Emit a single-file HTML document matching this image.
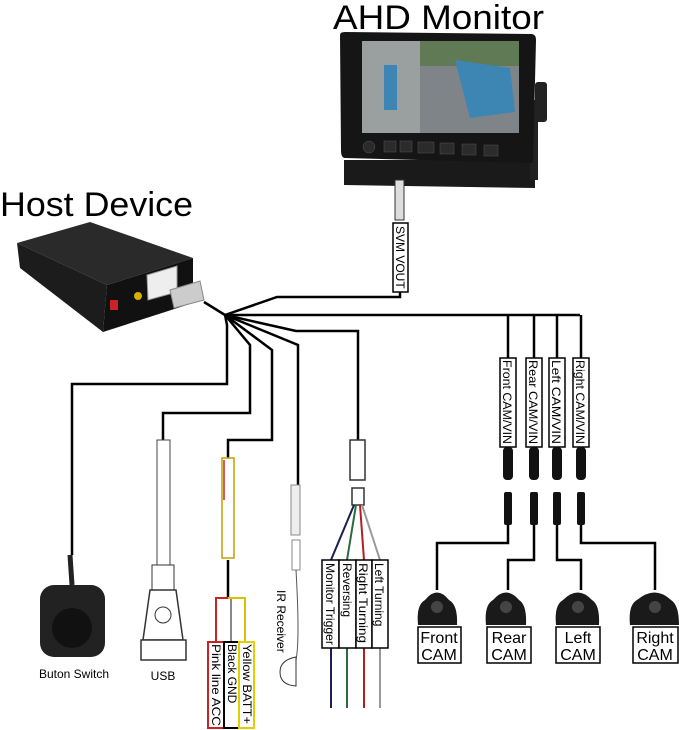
<!DOCTYPE html>
<html><head><meta charset="utf-8"><style>
html,body{margin:0;padding:0;background:#fff;}
svg{display:block;font-family:"Liberation Sans",sans-serif;}
</style></head><body>
<svg width="679" height="730" viewBox="0 0 679 730" xmlns="http://www.w3.org/2000/svg">
<rect width="679" height="730" fill="#fff"/>
<!-- titles -->
<text x="333" y="29" font-size="34" textLength="211" lengthAdjust="spacingAndGlyphs">AHD Monitor</text>
<text x="0" y="216" font-size="34" textLength="193" lengthAdjust="spacingAndGlyphs">Host Device</text>

<!-- monitor -->
<path d="M344 160 L344 185 L535 188 L535 160 Z" fill="#1a1a1a"/>
<rect x="535" y="82" width="12" height="40" rx="3" fill="#222"/>
<rect x="530" y="100" width="8" height="80" fill="#222"/>
<path d="M340 35 Q340 32 345 32 L531 34 Q536 34 536 40 L533 163 L345 158 Q341 158 341 150 Z" fill="#151515"/>
<rect x="362" y="41" width="157" height="92" fill="#8d9497"/>
<rect x="362" y="41" width="58" height="92" fill="#9aa0a0"/>
<rect x="420" y="41" width="99" height="92" fill="#7e8487"/>
<rect x="420" y="41" width="99" height="25" fill="#5f7a55"/>
<path d="M455 60 L510 68 L515 112 L470 118 Z" fill="#3d86b3"/>
<rect x="384" y="65" width="13" height="45" fill="#3d86b3"/>
<g fill="#2b2b2b" stroke="#555" stroke-width="0.5">
<circle cx="369" cy="147" r="6"/>
<rect x="384" y="141" width="12" height="11"/><rect x="400" y="141" width="12" height="11"/><rect x="418" y="142" width="16" height="11"/>
<rect x="440" y="143" width="14" height="11"/><rect x="462" y="144" width="14" height="11"/><rect x="484" y="145" width="14" height="11"/>
</g>
<!-- SVM vout -->
<rect x="395" y="180" width="9" height="40" fill="#ddd" stroke="#333"/>
<rect x="393" y="223" width="15" height="69" fill="#fff" stroke="#000" stroke-width="1.5"/>
<text transform="translate(396,226) rotate(90)" font-size="12">SVM VOUT</text>

<!-- host device -->
<polygon points="17,243 90,222 193,258 107,285" fill="#2a2a2a"/>
<polygon points="107,285 193,258 193,303 103,332" fill="#111"/>
<polygon points="17,243 107,285 103,332 20,268" fill="#1c1c1c"/>
<rect x="110" y="300" width="8" height="10" fill="#c22"/>
<circle cx="138" cy="296" r="4" fill="#d4b000"/>
<polygon points="147,275 177,266 177,292 148,300" fill="#eee" stroke="#999"/>
<polygon points="170,290 200,281 204,300 174,308" fill="#ccc" stroke="#888"/>

<!-- wires -->
<g fill="none" stroke="#000" stroke-width="2.5">
<path d="M204 302 L225 315"/>
<path d="M225 315 L277 297 L400 297 L400 292"/>
<path d="M225 315 L580 315"/>
<path d="M508 315 V358 M534 315 V358 M557 315 V358 M581 315 V358"/>
<path d="M225 315 L296 331 L358 331 L358 440"/>
<path d="M225 315 L227 325 L227 384 L72 384 L72 555"/>
<path d="M225 315 L250 345 L250 413 L163 413 L163 440"/>
<path d="M225 315 L272 350 L272 440 L228 440 L228 458"/>
<path d="M225 315 L298 345 L298 485"/>
<path d="M508 525 V543 H437 V590"/>
<path d="M534 525 V560 H508 V590"/>
<path d="M557 525 V560 H581 V590"/>
<path d="M581 525 V543 H655 V590"/>
<path d="M228 560 V598"/>
</g>

<!-- CAM/VIN labels -->
<g fill="#fff" stroke="#000" stroke-width="1.5">
<rect x="500" y="358" width="16" height="89"/><rect x="526" y="358" width="16" height="89"/>
<rect x="549" y="358" width="16" height="89"/><rect x="573" y="358" width="16" height="89"/>
</g>
<g font-size="12">
<text transform="translate(503,360) rotate(90)" textLength="84" lengthAdjust="spacingAndGlyphs">Front CAM/VIN</text>
<text transform="translate(529,360) rotate(90)" textLength="84" lengthAdjust="spacingAndGlyphs">Rear CAM/VIN</text>
<text transform="translate(552,360) rotate(90)" textLength="84" lengthAdjust="spacingAndGlyphs">Left CAM/VIN</text>
<text transform="translate(576,360) rotate(90)" textLength="84" lengthAdjust="spacingAndGlyphs">Right CAM/VIN</text>
</g>
<g fill="#111">
<rect x="503" y="447" width="10" height="33" rx="4"/><rect x="529" y="447" width="10" height="33" rx="4"/>
<rect x="552" y="447" width="10" height="33" rx="4"/><rect x="576" y="447" width="10" height="33" rx="4"/>
<rect x="504" y="492" width="8" height="33" rx="2"/><rect x="530" y="492" width="8" height="33" rx="2"/>
<rect x="553" y="492" width="8" height="33" rx="2"/><rect x="577" y="492" width="8" height="33" rx="2"/>
</g>

<!-- cameras -->
<g fill="#1a1a1a">
<path d="M418 625 Q416 605 425 600 Q437 585 449 600 Q458 605 457 625 Z"/>
<path d="M486 625 Q484 605 493 600 Q506 585 519 600 Q527 605 526 625 Z"/>
<path d="M556 625 Q554 605 563 600 Q578 585 592 600 Q600 605 599 625 Z"/>
<path d="M630 625 Q628 605 637 600 Q655 585 671 600 Q679 605 679 625 Z"/>
</g>
<g fill="#444"><circle cx="437" cy="607" r="6"/><circle cx="506" cy="607" r="6"/><circle cx="578" cy="607" r="6"/><circle cx="655" cy="607" r="6"/></g>
<g fill="#fff" stroke="#000" stroke-width="1.5">
<rect x="418" y="627" width="43" height="36"/><rect x="487" y="627" width="44" height="36"/>
<rect x="556" y="627" width="44" height="36"/><rect x="633" y="627" width="45" height="36"/>
</g>
<g font-size="16" text-anchor="middle">
<text x="439" y="643">Front</text><text x="439" y="660">CAM</text>
<text x="509" y="643">Rear</text><text x="509" y="660">CAM</text>
<text x="578" y="643">Left</text><text x="578" y="660">CAM</text>
<text x="655" y="643">Right</text><text x="655" y="660">CAM</text>
</g>

<!-- trigger harness -->
<rect x="350" y="440" width="15" height="40" fill="#fff" stroke="#333" stroke-width="1.5"/>
<rect x="352" y="488" width="12" height="17" fill="#fff" stroke="#333" stroke-width="1.5"/>
<g fill="none" stroke-width="2">
<path d="M354 505 L331 560 V708" stroke="#1e1e50"/>
<path d="M356 505 L347 560 V708" stroke="#2b6b3d"/>
<path d="M360 505 L364 560 V708" stroke="#b02020"/>
<path d="M362 505 L380 560 V708" stroke="#999"/>
</g>
<g fill="#fff" stroke="#000" stroke-width="1.5">
<rect x="322" y="560" width="17" height="88"/><rect x="339" y="560" width="17" height="88"/>
<rect x="356" y="560" width="16" height="88"/><rect x="372" y="560" width="16" height="88"/>
</g>
<g font-size="12">
<text transform="translate(326,563) rotate(90)" textLength="82" lengthAdjust="spacingAndGlyphs">Monitor Trigger</text>
<text transform="translate(343,563) rotate(90)">Reversing</text>
<text transform="translate(359,563) rotate(90)" textLength="80" lengthAdjust="spacingAndGlyphs">Right Turning</text>
<text transform="translate(375,563) rotate(90)">Left Turning</text>
</g>

<!-- IR receiver -->
<rect x="291" y="485" width="9" height="50" fill="#eee" stroke="#888"/>
<rect x="292" y="540" width="8" height="30" fill="#fff" stroke="#888"/>
<path d="M296 570 Q300 640 296 660" fill="none" stroke="#555" stroke-width="1"/>
<path d="M296 657 Q280 660 280 672 Q280 685 296 686 Z" fill="#fff" stroke="#333"/>
<text transform="translate(277,590) rotate(90)" font-size="12">IR Receiver</text>

<!-- USB -->
<rect x="157" y="440" width="13" height="125" fill="#fff" stroke="#444"/>
<rect x="152" y="565" width="22" height="25" fill="#fff" stroke="#333"/>
<path d="M150 590 L176 590 L183 640 L143 640 Z" fill="#fff" stroke="#333" stroke-width="1.5"/>
<circle cx="163" cy="615" r="8" fill="none" stroke="#333"/>
<rect x="141" y="640" width="45" height="20" fill="#fff" stroke="#333" stroke-width="1.5"/>
<text x="163" y="680" font-size="12" text-anchor="middle">USB</text>

<!-- button switch -->
<path d="M70 555 L72 585" stroke="#222" stroke-width="5"/>
<rect x="40" y="585" width="65" height="72" rx="14" fill="#222"/>
<circle cx="72" cy="628" r="20" fill="#111"/>
<text x="74" y="678" font-size="12" text-anchor="middle">Buton Switch</text>

<!-- power -->
<rect x="222" y="458" width="12" height="100" fill="#fff" stroke="#c4a000" stroke-width="1.5"/>
<line x1="224" y1="460" x2="224" y2="500" stroke="#c22" stroke-width="1.5"/>
<g fill="none" stroke-width="2">
<path d="M228 598 H216 V642" stroke="#c22"/>
<path d="M231 598 V642" stroke="#888"/>
<path d="M228 598 H245 V642" stroke="#d9c000"/>
</g>
<rect x="208" y="642" width="16" height="86" fill="#fff" stroke="#c22" stroke-width="2"/>
<rect x="224" y="642" width="15" height="86" fill="#fff" stroke="#000" stroke-width="2"/>
<rect x="239" y="642" width="15" height="86" fill="#fff" stroke="#e0d000" stroke-width="2"/>
<g font-size="12">
<text transform="translate(212,644) rotate(90)" textLength="82" lengthAdjust="spacingAndGlyphs">Pink line ACC</text>
<text transform="translate(228,644) rotate(90)">Black GND</text>
<text transform="translate(243,644) rotate(90)" textLength="80" lengthAdjust="spacingAndGlyphs">Yellow BATT+</text>
</g>
</svg>
</body></html>
